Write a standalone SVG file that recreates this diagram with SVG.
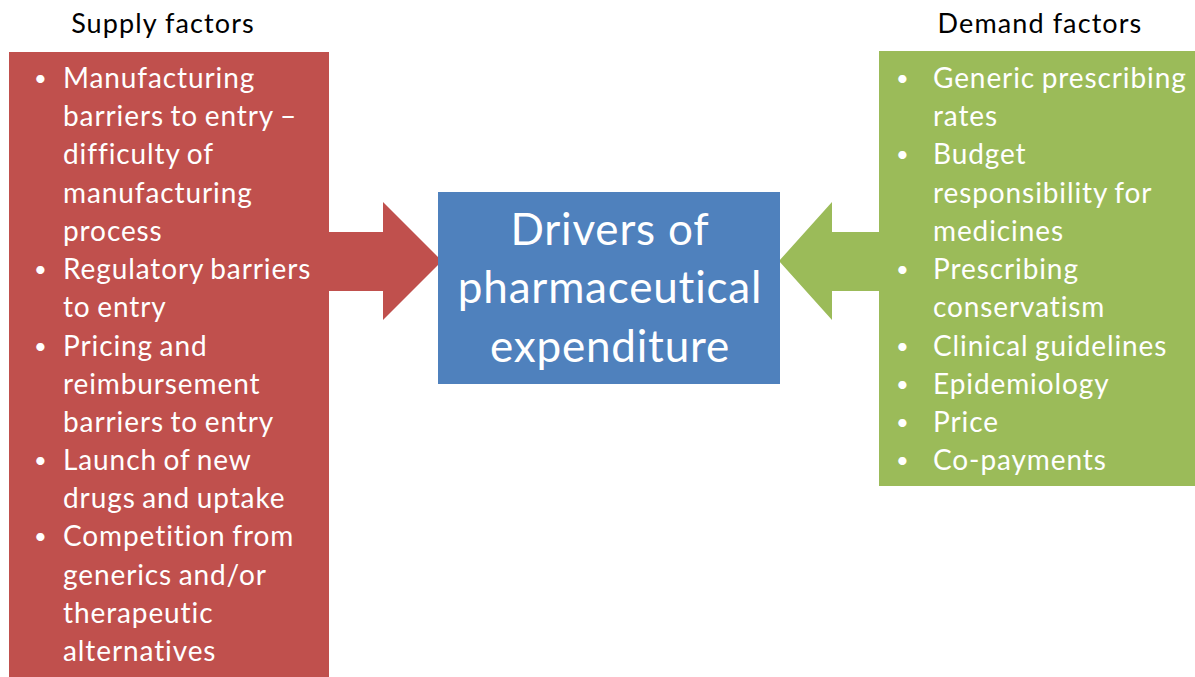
<svg xmlns="http://www.w3.org/2000/svg" width="1195" height="677" viewBox="0 0 1195 677">
<style>
.hdr{font-family:Lato,"Liberation Sans",sans-serif;font-size:27px;letter-spacing:1.1px;fill:#000;text-anchor:middle}
.li{font-family:Lato,"Liberation Sans",sans-serif;font-size:28px;letter-spacing:0.9px;word-spacing:-1.5px;fill:#fff}
.bu{font-size:22px}
.ctr{font-family:Lato,"Liberation Sans",sans-serif;font-size:44px;letter-spacing:0.8px;fill:#fff;text-anchor:middle}
</style>
<rect width="1195" height="677" fill="#fff"/>
<g id="connectors">
<polygon id="supply-arrow" points="329,232 383,232 383,202 442,261 383,320 383,291 329,291" fill="#C0504D"/>
<polygon id="demand-arrow" points="879,232 832,232 832,202 779,261 832,320 832,291 879,291" fill="#9BBB59"/>
</g>
<g id="supply">
<text class="hdr" x="163" y="33">Supply factors</text>
<rect x="9" y="52" width="320" height="625" fill="#C0504D"/>
<g class="li">
<text class="bu" x="34" y="86">•</text><text x="63" y="88">Manufacturing</text>
<text x="63" y="126">barriers to entry –</text>
<text x="63" y="164">difficulty of</text>
<text x="63" y="203">manufacturing</text>
<text x="63" y="241">process</text>
<text class="bu" x="34" y="277">•</text><text x="63" y="279">Regulatory barriers</text>
<text x="63" y="317">to entry</text>
<text class="bu" x="34" y="354">•</text><text x="63" y="356">Pricing and</text>
<text x="63" y="394">reimbursement</text>
<text x="63" y="432">barriers to entry</text>
<text class="bu" x="34" y="468">•</text><text x="63" y="470">Launch of new</text>
<text x="63" y="508">drugs and uptake</text>
<text class="bu" x="34" y="544">•</text><text x="63" y="546">Competition from</text>
<text x="63" y="585">generics and/or</text>
<text x="63" y="623">therapeutic</text>
<text x="63" y="661">alternatives</text>
</g>
</g>
<g id="center">
<rect x="438" y="192" width="342" height="192" fill="#4F81BD"/>
<text class="ctr" x="610" y="245">Drivers of</text>
<text class="ctr" x="610" y="303">pharmaceutical</text>
<text class="ctr" x="610" y="362">expenditure</text>
</g>
<g id="demand">
<text class="hdr" x="1040" y="33">Demand factors</text>
<rect x="879" y="51" width="316" height="435" fill="#9BBB59"/>
<g class="li">
<text class="bu" x="896" y="86">•</text><text x="933" y="88">Generic prescribing</text>
<text x="933" y="126">rates</text>
<text class="bu" x="896" y="162">•</text><text x="933" y="164">Budget</text>
<text x="933" y="203">responsibility for</text>
<text x="933" y="241">medicines</text>
<text class="bu" x="896" y="277">•</text><text x="933" y="279">Prescribing</text>
<text x="933" y="317">conservatism</text>
<text class="bu" x="896" y="354">•</text><text x="933" y="356">Clinical guidelines</text>
<text class="bu" x="896" y="392">•</text><text x="933" y="394">Epidemiology</text>
<text class="bu" x="896" y="430">•</text><text x="933" y="432">Price</text>
<text class="bu" x="896" y="468">•</text><text x="933" y="470">Co-payments</text>
</g>
</g>
</svg>
